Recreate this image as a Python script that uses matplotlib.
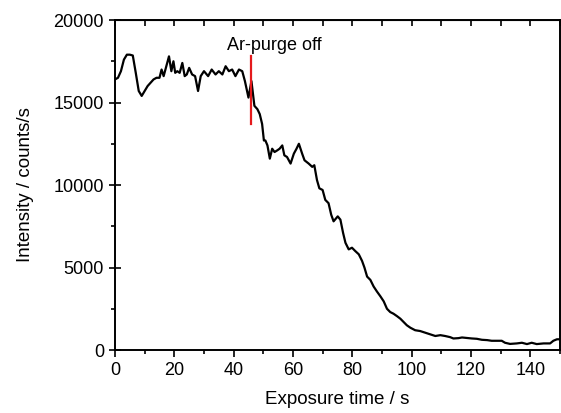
import matplotlib
matplotlib.use("Agg")
import matplotlib.pyplot as plt
from matplotlib.ticker import MultipleLocator

plt.rcParams['font.family'] = ['Liberation Sans', 'DejaVu Sans']

time_s = [0, 1, 2, 3, 4, 5, 6, 7, 8, 9, 10, 11, 12, 13, 14, 15, 15.7, 16.4, 17.3, 18.2,
          19, 19.7, 20.3, 21, 21.8, 22.7, 23.5, 24.2, 25, 26, 27, 28, 28.9, 30, 31.4,
          32.6, 33.9, 35, 36.2, 37.3, 38.4, 39.5, 40.6, 41.8, 42.9, 43.8, 45, 46, 47,
          48, 48.8, 49.6, 50.2, 50.7, 51.4, 52.2, 53, 53.8, 54.7, 55.5, 56.4, 57.1, 58,
          59.2, 60.3, 61.2, 62, 63.1, 63.9, 65.3, 66.5, 67.2, 68.1, 68.9, 70, 70.9, 72,
          72.9, 73.7, 75.1, 76, 76.9, 77.7, 78.8, 79.9, 81, 82.2, 83.3, 84.1, 85, 86.1,
          87.2, 88.3, 89.5, 90.6, 91.7, 92.8, 93.9, 95.1, 96.2, 97.3, 98.4, 99.6, 101.2,
          102.9, 104.6, 106.3, 108, 109.7, 111.3, 113, 114.1, 115.8, 117, 120.3, 122,
          123.7, 125.5, 127, 130.4, 131.5, 133.2, 135.5, 137.2, 138.9, 140.5, 142.2,
          144.5, 146.7, 147.8, 149, 150]
intensity = [16400, 16500, 16900, 17600, 17900, 17900, 17850, 16800, 15700, 15400, 15700,
             16000, 16200, 16400, 16500, 16500, 17000, 16600, 17200, 17800, 16900, 17500,
             16800, 16900, 16800, 17400, 16600, 16700, 17100, 16700, 16600, 15700, 16600,
             16900, 16600, 17000, 16700, 16900, 16700, 17200, 16900, 17000, 16600, 17000,
             16900, 16300, 15300, 16300, 14800, 14600, 14300, 13700, 12700, 12700, 12400,
             11600, 12200, 12000, 12100, 12200, 12400, 11800, 11700, 11300, 11900, 12200,
             12500, 11900, 11500, 11300, 11100, 11200, 10300, 9800, 9700, 9100, 8900, 8200,
             7800, 8100, 7900, 7100, 6500, 6100, 6200, 6000, 5800, 5400, 5000, 4450, 4250,
             3850, 3550, 3250, 2950, 2500, 2300, 2200, 2050, 1900, 1700, 1500, 1350, 1200,
             1150, 1050, 950, 850, 900, 850, 780, 700, 720, 760, 700, 680, 620, 600, 560,
             560, 440, 370, 400, 440, 360, 440, 360, 400, 400, 560, 650, 650]

purge_time = 45.7
purge_range = [13700, 17800]
annotation = "Ar-purge off"

fig = plt.figure(figsize=(5.61, 4.13), dpi=100)
ax = fig.add_axes([0.205, 0.1525, 0.793, 0.799])
ax.plot(time_s, intensity, color='black', lw=1.6)
ax.plot([purge_time, purge_time], purge_range, color='#e41a1c', lw=1.6)
ax.text(37.9, 18180, annotation, ha='left', va='baseline', fontsize=13)

ax.set_xlim(0, 150)
ax.set_ylim(0, 20000)
ax.xaxis.set_major_locator(MultipleLocator(20))
ax.xaxis.set_minor_locator(MultipleLocator(10))
ax.yaxis.set_major_locator(MultipleLocator(5000))
ax.yaxis.set_minor_locator(MultipleLocator(2500))
ax.tick_params(axis='x', which='major', direction='out', length=5, width=1.2, labelsize=13, top=False)
ax.tick_params(axis='x', which='minor', direction='out', length=3, width=1.2, top=False)
ax.tick_params(axis='y', which='major', direction='inout', length=9, width=1.2, labelsize=13, right=False)
ax.tick_params(axis='y', which='minor', direction='out', length=3, width=1.2, right=False)
for s in ax.spines.values():
    s.set_linewidth(1.4)

# top inward ticks
sec = ax.secondary_xaxis('top')
sec.xaxis.set_major_locator(MultipleLocator(10))
sec.tick_params(direction='in', length=4, width=1.2, labeltop=False)
sec.set_xticklabels([])

ax.set_xlabel("Exposure time / s", fontsize=13.5, labelpad=9)
ax.set_ylabel("Intensity / counts/s", fontsize=13.5, labelpad=14)

fig.savefig("out.png", dpi=100)
